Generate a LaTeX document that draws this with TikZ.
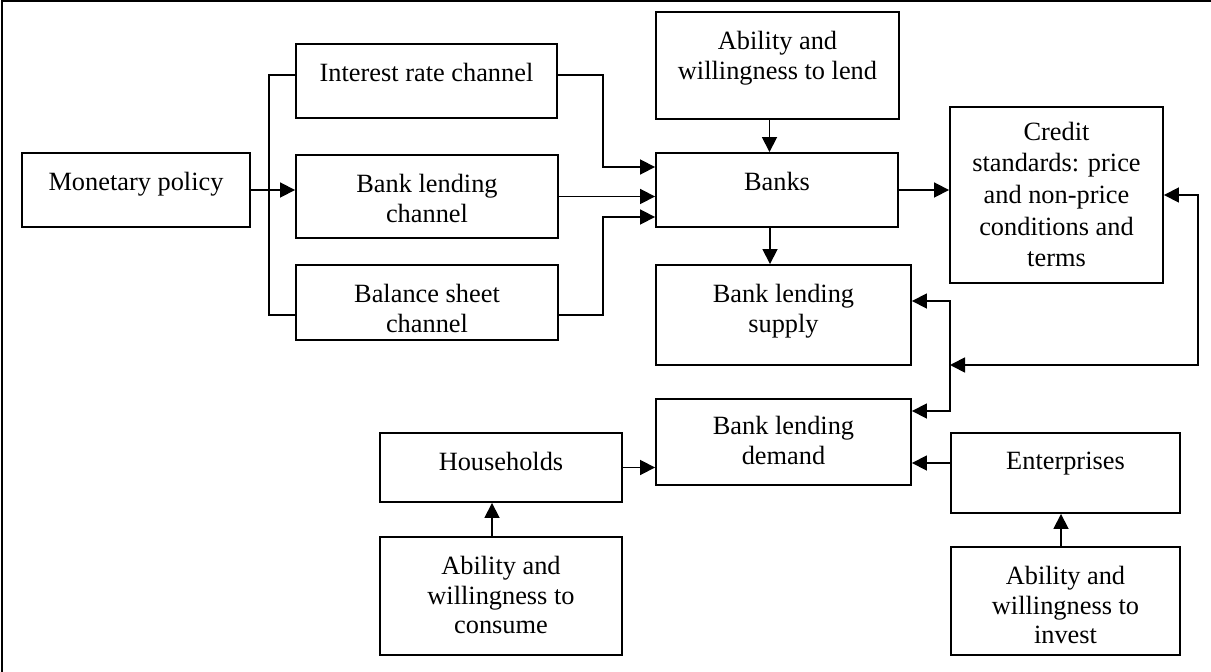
\documentclass[tikz,border=0pt]{standalone}
\usepackage{fontspec}
\setmainfont{Liberation Serif}
\usepackage{tikz}
\usetikzlibrary{arrows.meta,calc}

\begin{document}
\begin{tikzpicture}[
    x=0.02cm, y=-0.02cm,
    box/.style={rectangle, draw, line width=1.1pt, inner sep=0pt},
    txt/.style={anchor=north, align=center, inner sep=0pt, yshift=-0.39cm,
        font=\fontsize{15}{17}\selectfont},
    edge/.style={line width=1pt},
    arr/.style={edge, -{Triangle[length=0.3cm, width=0.3cm]}},
    biarr/.style={edge, {Triangle[length=0.3cm, width=0.3cm]}-{Triangle[length=0.3cm, width=0.3cm]}}
]
    \useasboundingbox (0,0) rectangle (1211,672);
    % frame
    \draw[line width=1.2pt] (2,672) -- (2,1) -- (1211,1);

    % policy and channels
    \node[box, minimum width=4.56cm, minimum height=1.48cm,
        label={[txt]north:Monetary policy}] (mon) at (136,190) {};
    \node[box, minimum width=5.22cm, minimum height=1.48cm,
        label={[txt]north:Interest rate channel}] (irc) at (426.5,81) {};
    \node[box, minimum width=5.24cm, minimum height=1.66cm,
        label={[txt]north:Bank lending\\channel}] (blc) at (427,196.5) {};
    \node[box, minimum width=5.24cm, minimum height=1.50cm,
        label={[txt]north:Balance sheet\\channel}] (bsc) at (427,302.5) {};

    % banks side
    \node[box, minimum width=4.86cm, minimum height=2.14cm,
        label={[txt]north:Ability and\\willingness to lend}] (lend) at (777.5,65.5) {};
    \node[box, minimum width=4.84cm, minimum height=1.48cm,
        label={[txt]north:Banks}] (banks) at (777,190) {};
    \node[box, minimum width=4.26cm, minimum height=3.52cm,
        label={[txt, yshift=0.08cm, font=\fontsize{15}{18}\selectfont]north:Credit\\standards: price\\and non-price\\conditions and\\terms}] (credit) at (1056.5,195) {};
    \node[box, minimum width=5.10cm, minimum height=2.00cm,
        label={[txt]north:Bank lending\\supply}] (supply) at (783.5,315) {};
    \node[box, minimum width=5.10cm, minimum height=1.72cm,
        label={[txt, yshift=0.04cm]north:Bank lending\\demand}] (demand) at (783.5,442) {};

    % borrowers
    \node[box, minimum width=4.84cm, minimum height=1.38cm,
        label={[txt]north:Households}] (house) at (501,467.5) {};
    \node[box, minimum width=4.84cm, minimum height=2.36cm,
        label={[txt]north:Ability and\\willingness to\\consume}] (consume) at (501,596) {};
    \node[box, minimum width=4.58cm, minimum height=1.60cm,
        label={[txt]north:Enterprises}] (enter) at (1065.5,473) {};
    \node[box, minimum width=4.58cm, minimum height=2.16cm,
        label={[txt]north:Ability and\\willingness to\\invest}] (invest) at (1065.5,601) {};

    \coordinate (bus) at (950,365);

    % transmission
    \draw[edge] ([yshift=0.12cm]irc.west) -- ++(-0.52cm,0) |- ([yshift=-0.25cm]bsc.west);
    \draw[arr] (mon.east) -- (mon.east -| blc.west);
    \draw[arr] ([yshift=0.12cm]irc.east) -- ++(0.9cm,0) |- ([yshift=0.46cm]banks.west);
    \draw[arr] (blc.east) -- (blc.east -| banks.west);
    \draw[arr] ([yshift=-0.25cm]bsc.east) -- ++(0.88cm,0) |- ([yshift=-0.54cm]banks.west);
    \draw[arr] ([xshift=-0.16cm]lend.south) -- ([xshift=-0.16cm]lend.south |- banks.north);
    \draw[arr] ([xshift=-0.14cm]banks.south) -- ([xshift=-0.14cm]banks.south |- supply.north);
    \draw[arr] (banks.east) -- (banks.east -| credit.west);

    % credit standards to supply and demand
    \draw[biarr] (credit.east) -- ++(0.68cm,0) |- (bus);
    \draw[arr] (bus) |- ([yshift=0.28cm]supply.east);
    \draw[arr] (bus) |- ([yshift=0.62cm]demand.east);

    % demand side
    \draw[arr] (house.east) -- (house.east -| demand.west);
    \draw[arr] ([yshift=0.2cm]enter.west) -- ([yshift=0.2cm]enter.west -| demand.east);
    \draw[arr] ([xshift=-0.18cm]consume.north) -- ([xshift=-0.18cm]consume.north |- house.south);
    \draw[arr] ([xshift=-0.09cm]invest.north) -- ([xshift=-0.09cm]invest.north |- enter.south);
\end{tikzpicture}
\end{document}
